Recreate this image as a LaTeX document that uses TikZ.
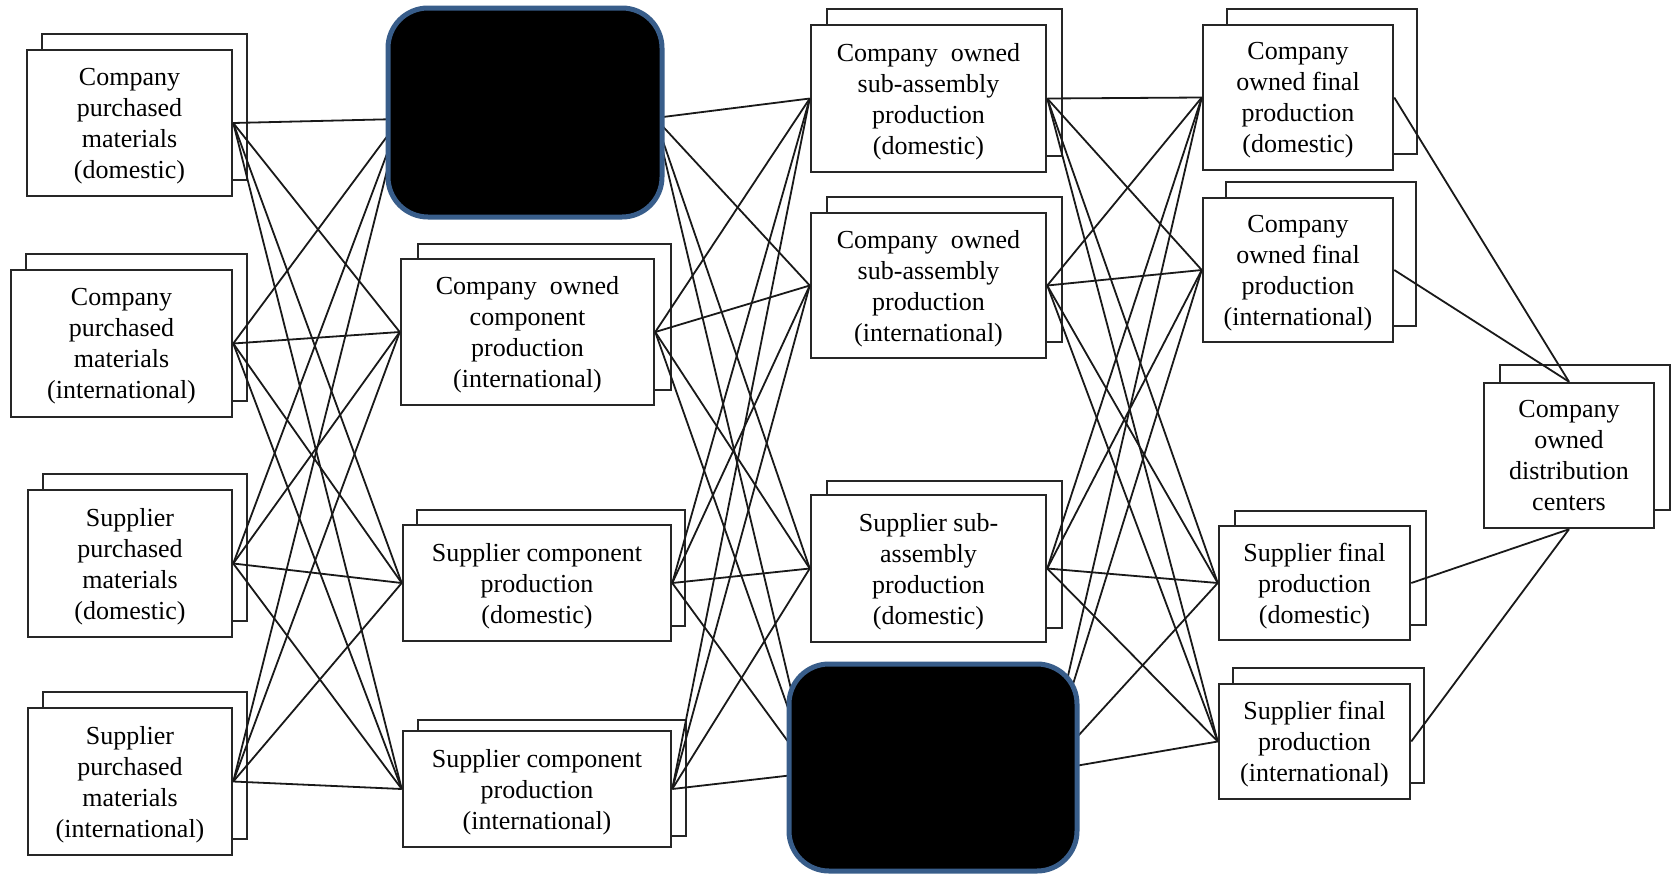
\documentclass[tikz,border=0pt]{standalone}
\usepackage{fontspec}
\setmainfont{Liberation Serif}
\usetikzlibrary{shadows}
\definecolor{blackboxedge}{RGB}{56,93,138}
\begin{document}
\begin{tikzpicture}[x=1pt,y=-1pt,
  dbox/.style 2 args={draw=black!85, line width=2.5pt, fill=white, inner sep=0pt,
     align=center, font=\fontsize{26}{31}\selectfont, text depth=-1pt,
     copy shadow={shadow xshift=#1, shadow yshift=#2, draw=black!85, fill=white, line width=2.5pt}},
  blackbox/.style={draw=blackboxedge, line width=5pt, fill=black, rounded corners=40pt, inner sep=0pt},
  conn/.style={line width=1.8pt, black!90}]
\fill[white] (0,0) rectangle (1673,873);
\useasboundingbox (0,0) rectangle (1673,873);
\newcommand{\ow}{Company\hspace{0.5em}owned}
% column A
\node[dbox={15pt}{16pt}, minimum width=205pt, minimum height=146pt] (A1) at (129.5,123) {Company\\purchased\\materials\\(domestic)};
\node[dbox={15pt}{16pt}, minimum width=221pt, minimum height=147pt] (A2) at (121.5,343.5) {Company\\purchased\\materials\\(international)};
\node[dbox={15pt}{16pt}, minimum width=204pt, minimum height=147pt] (A3) at (130,563.5) {Supplier\\purchased\\materials\\(domestic)};
\node[dbox={15pt}{16pt}, minimum width=204pt, minimum height=147pt] (A4) at (130,781.5) {Supplier\\purchased\\materials\\(international)};
% column B
\coordinate (B1in) at (400,119);
\coordinate (B1out) at (655,118);
\node[dbox={17pt}{15pt}, minimum width=253pt, minimum height=146pt] (B2) at (527.5,332) {\ow\\component\\production\\(international)};
\node[dbox={14pt}{15pt}, minimum width=268pt, minimum height=116pt] (B3) at (537,583) {Supplier component\\production\\(domestic)};
\node[dbox={15pt}{11pt}, minimum width=268pt, minimum height=116pt] (B4) at (537,789) {Supplier component\\production\\(international)};
% column C
\node[dbox={16pt}{16pt}, minimum width=235pt, minimum height=147pt] (C1) at (928.5,98.5) {\ow\\sub-assembly\\production\\(domestic)};
\node[dbox={16pt}{16pt}, minimum width=235pt, minimum height=145pt] (C2) at (928.5,285.5) {\ow\\sub-assembly\\production\\(international)};
\node[dbox={16pt}{14pt}, minimum width=235pt, minimum height=147pt] (C3) at (928.5,568.5) {Supplier sub-\\assembly\\production\\(domestic)};
\coordinate (C4in) at (811,773);
\coordinate (C4out) at (1046,771);
% column D
\node[dbox={24pt}{16pt}, minimum width=190pt, minimum height=145pt] (D1) at (1298,97.5) {Company\\owned final\\production\\(domestic)};
\node[dbox={23pt}{16pt}, minimum width=190pt, minimum height=144pt] (D2) at (1298,270) {Company\\owned final\\production\\(international)};
\node[dbox={16pt}{15pt}, minimum width=191pt, minimum height=114pt] (D3) at (1314.5,583) {Supplier final\\production\\(domestic)};
\node[dbox={14pt}{16pt}, minimum width=191pt, minimum height=115pt] (D4) at (1314.5,741.5) {Supplier final\\production\\(international)};
% E
\node[dbox={16pt}{18pt}, minimum width=170pt, minimum height=145pt] (E) at (1569,455.5) {Company\\owned\\distribution\\centers};
% connectors
\foreach \a in {A1.east,A2.east,A3.east,A4.east}
  \foreach \b in {B1in,B2.west,B3.west,B4.west}
    \draw[conn] (\a) -- (\b);
\foreach \a in {B1out,B2.east,B3.east,B4.east}
  \foreach \b in {C1.west,C2.west,C3.west,C4in}
    \draw[conn] (\a) -- (\b);
\foreach \a in {C1.east,C2.east,C3.east,C4out}
  \foreach \b in {D1.west,D2.west,D3.west,D4.west}
    \draw[conn] (\a) -- (\b);
\draw[conn] (D1.east) -- (E.north);
\draw[conn] (D2.east) -- (E.north);
\draw[conn] (D3.east) -- (E.south);
\draw[conn] (D4.east) -- (E.south);
% blacked-out boxes
\node[blackbox, minimum width=274pt, minimum height=209pt] (B1) at (525,112.5) {};
\node[blackbox, minimum width=288pt, minimum height=207pt] (C4) at (933,767.5) {};
\end{tikzpicture}
\end{document}
